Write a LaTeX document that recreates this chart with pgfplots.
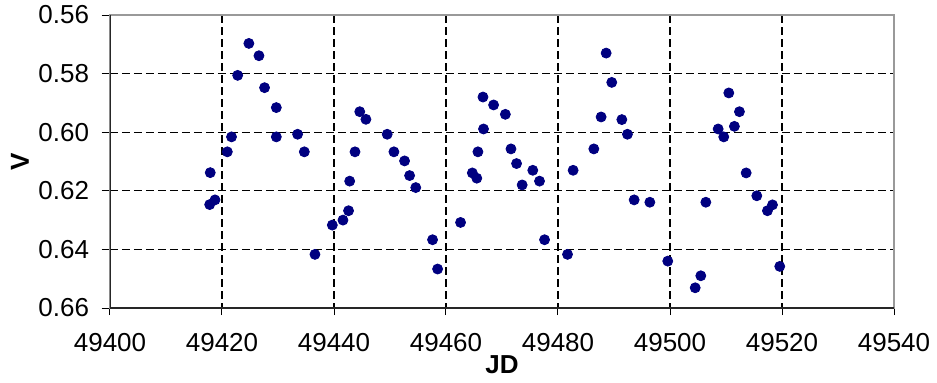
\documentclass[border=0pt]{standalone}
\usepackage{pgfplots}
\pgfplotsset{compat=1.18}
\usepackage{fontspec}
\setmainfont{Liberation Sans}
\definecolor{dotblue}{RGB}{0,0,128}
\begin{document}
\begin{tikzpicture}
\begin{axis}[
  scale only axis,
  width=392bp, height=146.5bp,
  xmin=49400, xmax=49540,
  ymin=0.56, ymax=0.66,
  y dir=reverse,
  xtick={49400,49420,...,49540},
  ytick={0.56,0.58,...,0.661},
  minor x tick num=4,
  tick pos=left,
  xtick align=outside,
  ytick align=center,
  scaled x ticks=false,
  scaled y ticks=false,
  xtick style={black, line width=0.5bp, /pgfplots/major tick length=3.5bp, /pgfplots/minor tick length=3.5bp},
  ytick style={black, line width=0.5bp, /pgfplots/major tick length=8.5bp},
  grid=major,
  major grid style={black, line width=0.6bp, dash pattern=on 4bp off 2bp},
  axis line style={draw=gray!80, line width=0.6bp},
  /pgf/number format/assume math mode=true,
  ticklabel style={font=\fontsize{13bp}{15.6bp}\selectfont},
  xticklabel style={/pgf/number format/fixed, /pgf/number format/precision=0, /pgf/number format/1000 sep={}, anchor=center, yshift=-13bp},
  yticklabel style={/pgf/number format/fixed, /pgf/number format/fixed zerofill, /pgf/number format/precision=2, anchor=center, xshift=-21bp},
  xlabel={\textbf{JD}},
  ylabel={\textbf{V}},
  label style={font=\fontsize{13bp}{15.6bp}\selectfont},
  xlabel style={at={(axis description cs:0.5,0)}, anchor=center, yshift=-28.5bp},
  ylabel style={at={(axis description cs:0,0.5)}, anchor=center, yshift=45bp},
]
\addplot[only marks, mark=*, mark size=2.5bp, color=dotblue, mark options={fill=dotblue, draw=dotblue}] coordinates {
(49417.9,0.6138) (49417.8,0.6247) (49418.75,0.6231) (49420.95,0.6067) (49421.7,0.6016)
(49422.8,0.5806) (49424.8,0.5697) (49426.6,0.5739) (49427.6,0.5848) (49429.7,0.5916)
(49429.7,0.6016) (49433.5,0.6007) (49434.7,0.6067) (49436.6,0.6417) (49439.7,0.6317)
(49441.6,0.6300) (49442.6,0.6268) (49442.8,0.6167) (49443.75,0.6067) (49444.6,0.5930)
(49445.7,0.5956) (49449.5,0.6007) (49450.7,0.6067) (49452.6,0.6098) (49453.5,0.6148)
(49454.6,0.6189) (49457.6,0.6367) (49458.5,0.6467) (49462.6,0.6308) (49464.7,0.6139)
(49465.5,0.6157) (49465.7,0.6067) (49466.7,0.5989) (49466.6,0.5880) (49468.5,0.5907)
(49470.6,0.5939) (49471.6,0.6057) (49472.6,0.6107) (49473.6,0.6180) (49475.5,0.6130)
(49476.7,0.6167) (49477.6,0.6367) (49481.7,0.6417) (49482.7,0.6130) (49486.4,0.6057)
(49487.7,0.5948) (49488.6,0.5730) (49489.6,0.5830) (49491.4,0.5957) (49492.4,0.6007)
(49493.6,0.6231) (49496.4,0.6239) (49499.6,0.6440) (49504.5,0.6531) (49505.5,0.6490)
(49506.4,0.6239) (49508.6,0.5989) (49509.6,0.6016) (49510.5,0.5866) (49511.5,0.5980)
(49512.4,0.5930) (49513.6,0.6139) (49515.5,0.6217) (49517.4,0.6268) (49518.3,0.6248)
(49519.6,0.6458)
};
\draw[black!85, line width=0.6bp] (axis description cs:0,1) -- (axis description cs:0,0) -- (axis description cs:1,0);
\end{axis}
\pgfresetboundingbox
\path[use as bounding box] (-55bp,-37.5bp) rectangle (413.5bp,154bp);
\end{tikzpicture}
\end{document}
